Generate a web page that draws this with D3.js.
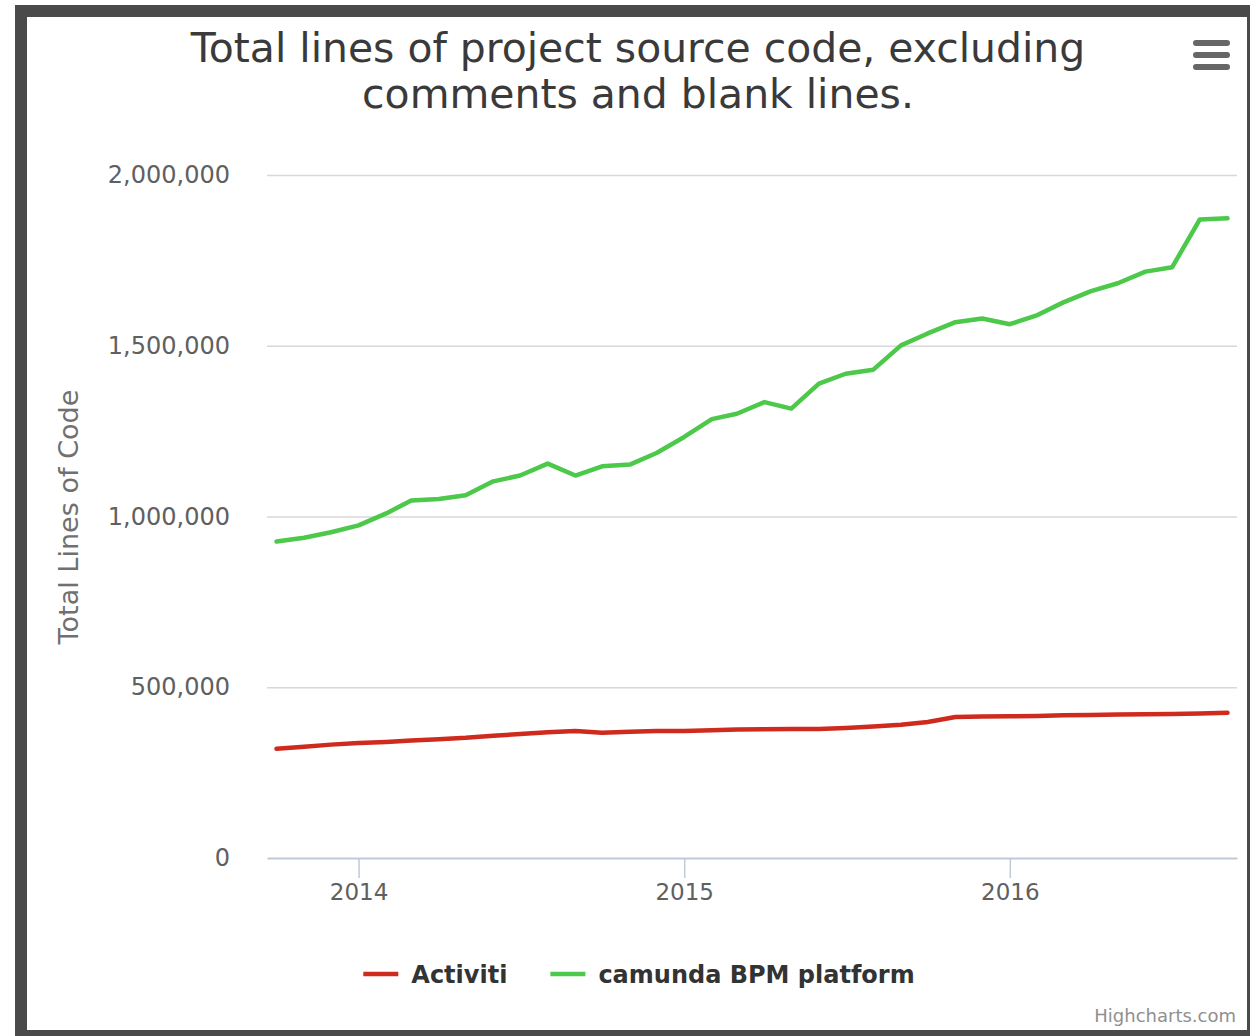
<!DOCTYPE html>
<html><head><meta charset="utf-8">
<script src="https://cdn.jsdelivr.net/npm/d3@7/dist/d3.min.js"></script>
<style>body{margin:0;background:#fff;} svg{display:block}</style>
</head><body><svg id="c" width="1250" height="1036"></svg>
<script>
// ---- data ----
const months = ["2013-10","2013-11","2013-12","2014-01","2014-02","2014-03","2014-04","2014-05","2014-06","2014-07","2014-08","2014-09",
  "2014-10","2014-11","2014-12","2015-01","2015-02","2015-03","2015-04","2015-05","2015-06","2015-07","2015-08","2015-09",
  "2015-10","2015-11","2015-12","2016-01","2016-02","2016-03","2016-04","2016-05","2016-06","2016-07","2016-08","2016-09"];
const activiti = [320000,326000,332000,337000,340000,344000,348000,352000,358000,363000,368000,372000,
  367000,370000,372000,372000,374000,376000,377000,378000,378000,381000,385000,390000,
  398000,413000,414000,415000,416000,418000,419000,420000,421000,422000,423000,425000];
const camunda = [927000,938000,954000,974000,1009000,1047000,1051000,1062000,1103000,1120000,1155000,1120000,
  1147000,1152000,1186000,1233000,1285000,1301000,1335000,1316000,1389000,1418000,1430000,1501000,
  1536000,1569000,1580000,1563000,1590000,1627000,1660000,1683000,1717000,1730000,1870000,1873000];
const seriesNames = ["Activiti","camunda BPM platform"];
const seriesColors = ["#cf2a1e","#4cc84a"];
const yTicks = [0,500000,1000000,1500000,2000000];
const xTickYears = ["2014","2015","2016"];
const titleLines = ["Total lines of project source code, excluding","comments and blank lines."];
const yTitle = "Total Lines of Code";
const credit = "Highcharts.com";

// ---- layout ----
const svg = d3.select("#c");
const L = 267, R = 1237, T = 175, B = 858;
const parse = d3.timeParse("%Y-%m");
const dates = months.map(parse);
const ext = d3.extent(dates);
const pad = (ext[1]-ext[0])*0.01;
const x = d3.scaleTime().domain([new Date(+ext[0]-pad), new Date(+ext[1]+pad)]).range([L,R]);
const y = d3.scaleLinear().domain([0,2000000]).range([B,T]);

// grid
const grid = svg.append("g").attr("transform",`translate(${L},0)`)
  .call(d3.axisLeft(y).tickValues(yTicks.slice(1)).tickSize(-(R-L)).tickFormat(""));
grid.select(".domain").remove();
grid.selectAll("line").attr("stroke","#d8d8d8").attr("stroke-width",1.5);

// y labels
const ya = svg.append("g").attr("transform",`translate(${L},0)`)
  .call(d3.axisLeft(y).tickValues(yTicks).tickSize(0).tickPadding(37).tickFormat(d3.format(",")));
ya.select(".domain").remove();
ya.selectAll("text").attr("font-family","DejaVu Sans").attr("font-size",24).attr("fill","#606060");

// x axis
const xa = svg.append("g").attr("transform",`translate(0,${B})`)
  .call(d3.axisBottom(x).tickValues(xTickYears.map(d=>d3.timeParse("%Y")(d))).tickSize(20).tickSizeOuter(0).tickPadding(6).tickFormat(d3.timeFormat("%Y")));
xa.select(".domain").attr("stroke","#c0cad8").attr("stroke-width",2);
xa.selectAll(".tick line").attr("stroke","#c0cad8").attr("stroke-width",1.5);
xa.selectAll("text").attr("font-family","DejaVu Sans").attr("font-size",23).attr("fill","#606060");

// lines
const line = d3.line().x((d,i)=>x(dates[i])).y(d=>y(d));
[activiti, camunda].forEach((s,k)=>{
  svg.append("path").datum(s).attr("d",line).attr("fill","none")
    .attr("stroke",seriesColors[k]).attr("stroke-width",4.5)
    .attr("stroke-linejoin","round").attr("stroke-linecap","round");
});

// title
const t1 = svg.append("text").text(titleLines[0]).attr("x",638).attr("y",62).attr("text-anchor","middle")
  .attr("font-family","DejaVu Sans").attr("font-size",40).attr("fill","#3a3a3a");
const fs = 40*895/t1.node().getComputedTextLength();
t1.attr("font-size",fs);
svg.append("text").text(titleLines[1]).attr("x",638).attr("y",108).attr("text-anchor","middle")
  .attr("font-family","DejaVu Sans").attr("font-size",fs).attr("fill","#3a3a3a");

// y title
const yt = svg.append("text").text(yTitle).attr("transform","translate(78,517) rotate(-90)")
  .attr("text-anchor","middle").attr("font-family","DejaVu Sans").attr("font-size",22).attr("fill","#707070");
yt.attr("font-size",22*255/yt.node().getComputedTextLength());

// legend
const lg = svg.append("g");
let cx = 0;
seriesNames.forEach((n,k)=>{
  const g = lg.append("g").attr("transform",`translate(${cx},0)`);
  g.append("line").attr("x1",0).attr("x2",35).attr("y1",0).attr("y2",0).attr("stroke",seriesColors[k]).attr("stroke-width",4.5);
  const tx = g.append("text").text(n).attr("x",48).attr("y",9).attr("font-family","DejaVu Sans").attr("font-weight","bold")
    .attr("font-size",24).attr("fill","#333");
  cx += 48 + tx.node().getComputedTextLength() + 43;
});
const lw = cx - 43;
lg.attr("transform",`translate(${639-lw/2},974)`);

// credit
svg.append("text").text(credit).attr("x",1236).attr("y",1022).attr("text-anchor","end")
  .attr("font-family","DejaVu Sans").attr("font-size",18).attr("fill","#909090");

// hamburger
[40,52,64].forEach(yy=>svg.append("rect").attr("x",1193).attr("y",yy).attr("width",37).attr("height",6).attr("rx",3).attr("fill","#666"));

// frame
svg.append("rect").attr("x",21).attr("y",11).attr("width",1232).attr("height",1025)
  .attr("fill","none").attr("stroke","#4a4a4a").attr("stroke-width",12);
</script></body></html>
